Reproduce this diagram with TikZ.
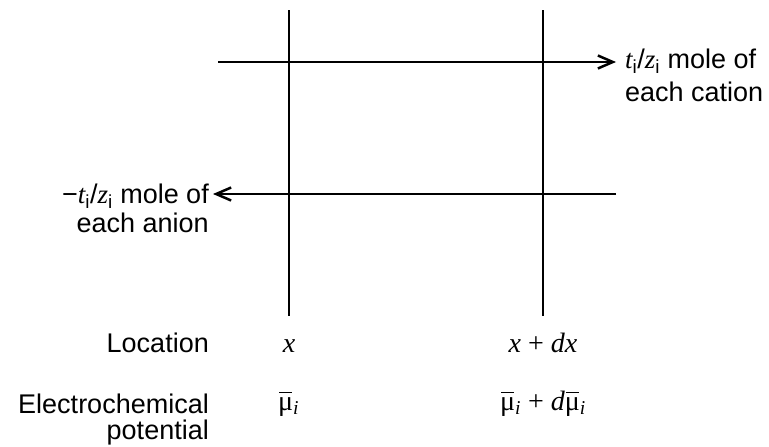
\documentclass[tikz,border=0pt]{standalone}
\usepackage{fontspec}
\setmainfont{Liberation Sans}
\newfontfamily\timesf{Liberation Serif}
\usetikzlibrary{arrows.meta,positioning}

\newcommand{\tz}{{\timesf\itshape t}\textsubscript{i}/{\timesf\itshape z}\textsubscript{i}}
\newcommand{\mub}{{\timesf\upshape\setbox0\hbox{μ}\rlap{\hspace{0.04em}\raisebox{0.6em}{\rule{0.85\wd0}{0.055em}}}μ}\textsubscript{\timesf\itshape i}}

\begin{document}
\begin{tikzpicture}[x=1pt, y=-1pt, >={Straight Barb[length=15pt,width=13pt]},
    every node/.style={font=\fontsize{27}{29}\selectfont, inner sep=0pt},
    sym/.style={font=\fontsize{28}{30}\selectfont\timesf\itshape},
    bar/.style={line width=1.9pt}, flux/.style={line width=2.5pt, ->}]
  \useasboundingbox (0,0) rectangle (769,447);
  \coordinate (xtop) at (289,10);
  \coordinate (xbot) at (289,316);
  \coordinate (dxtop) at (543,10);
  \coordinate (dxbot) at (543,316);
  \draw[bar] (xtop) -- (xbot);
  \draw[bar] (dxtop) -- (dxbot);
  \node[anchor=base west] (cat1) at (625,68) {\tz\ mole of};
  \node[anchor=base west] (cat2) at (625,101) {each cation};
  \node[anchor=base east] (an1) at (209,203) {−\tz\ mole of};
  \node[anchor=base east] (an2) at (209,232) {each anion};
  \coordinate (cstart) at (218,62);
  \coordinate (astart) at (616,194);
  \draw[flux, shorten >=9pt] (cstart) -- (cstart -| cat1.west);
  \draw[flux, shorten >=4pt] (astart) -- (astart -| an1.east);
  \node[anchor=base east] (loc) at (209,352) {Location};
  \node[anchor=base east] (ecp1) at (209,413) {Electrochemical};
  \node[anchor=base east] (ecp2) at (209,439) {potential};
  \node[sym, anchor=base] (xl) at (289,352) {x};
  \node[sym, anchor=base] (dxl) at (543,352) {x \upshape+ \itshape dx};
  \node[sym, anchor=base west] (mu) at (278,410) {\mub};
  \node[sym, anchor=base] (dmu) at (543,410) {\mub\ \upshape+ \itshape d\mub};
\end{tikzpicture}
\end{document}
